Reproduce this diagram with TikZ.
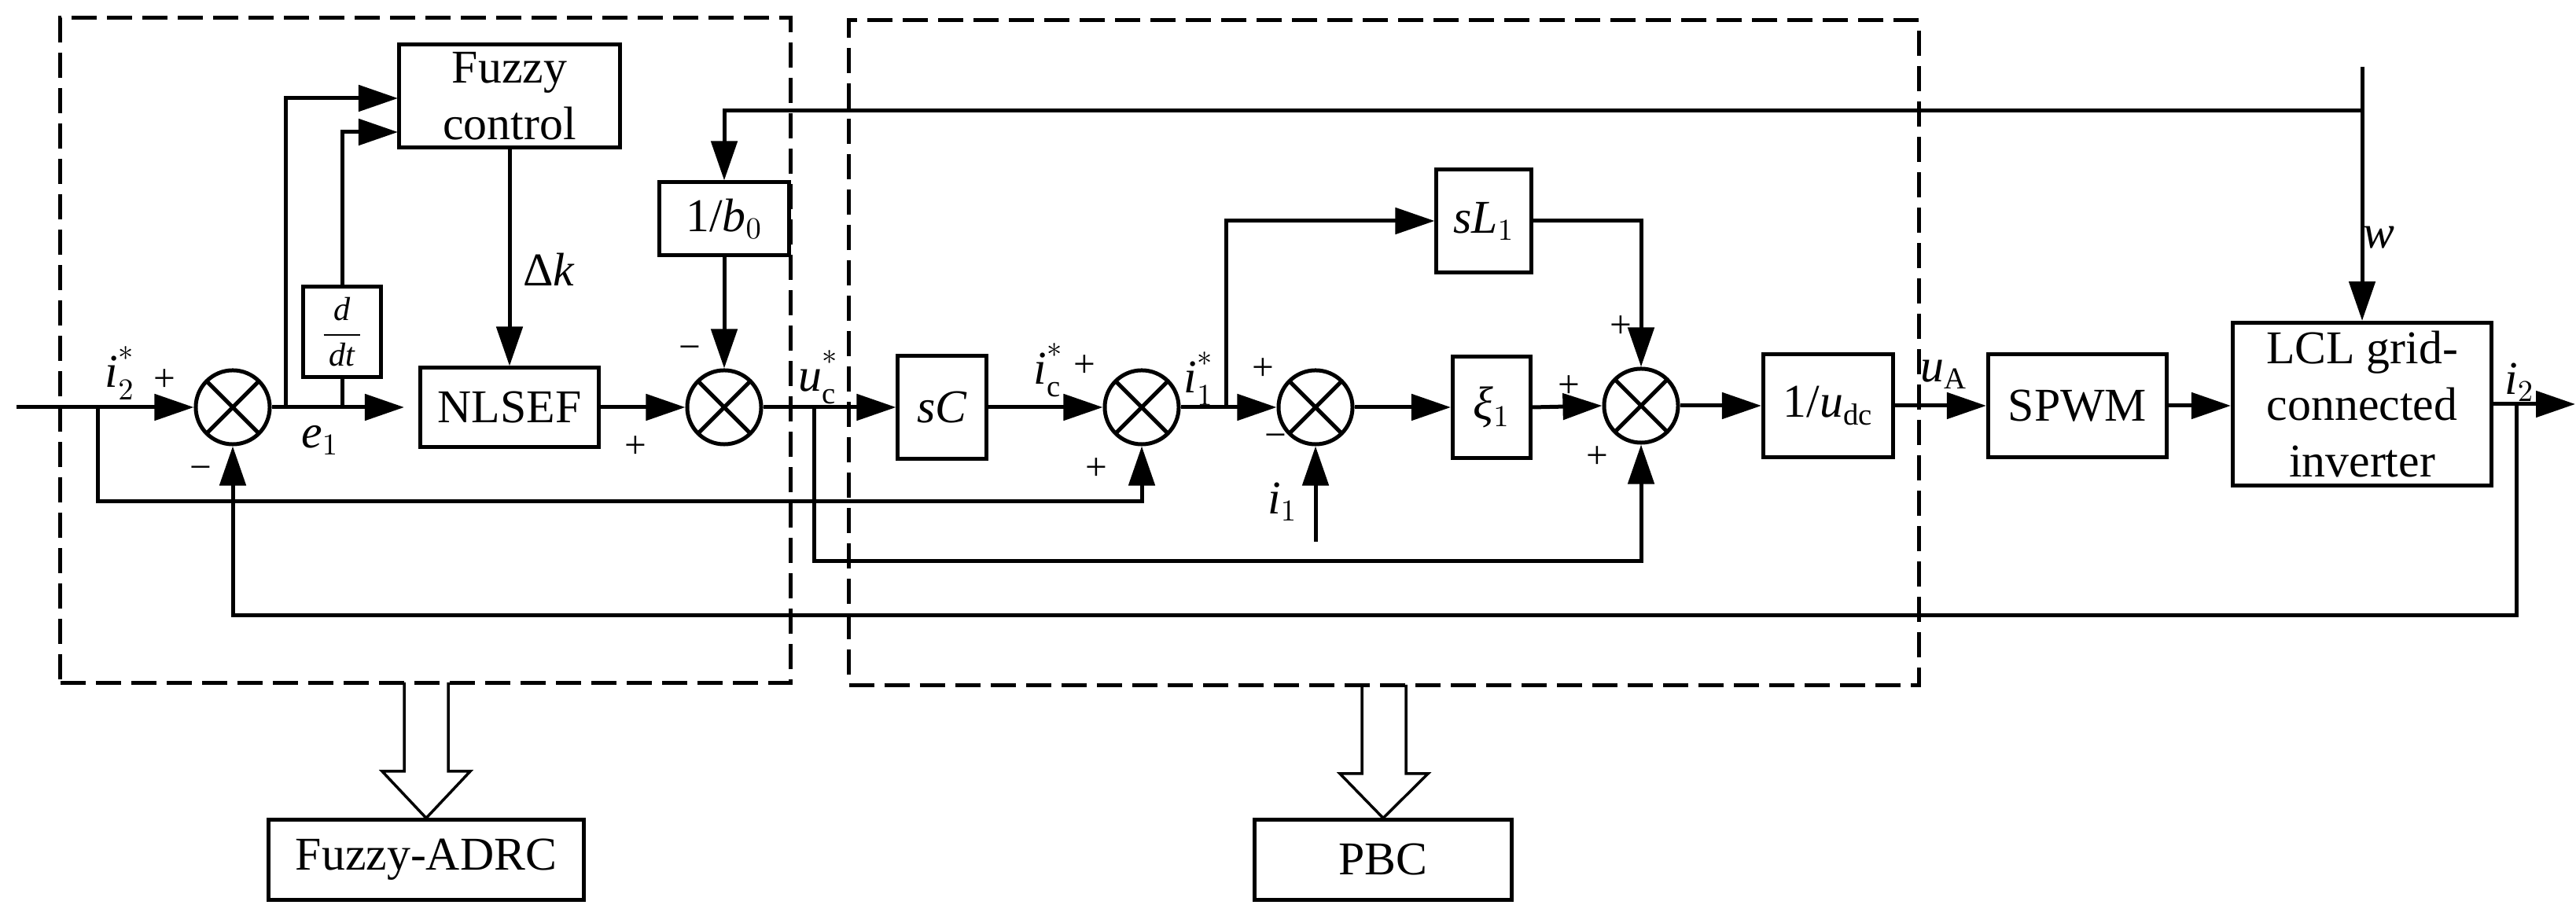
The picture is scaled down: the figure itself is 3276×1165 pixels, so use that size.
\documentclass[tikz,border=0pt]{standalone}
\usepackage{amsmath}
\usepackage{fontspec}
\setmainfont{Liberation Serif}
\usetikzlibrary{arrows.meta,calc}
\DeclareMathSizes{17}{17}{11}{8}
\newcommand{\upstar}{\raisebox{.2em}{$\scriptstyle *$}}
\tikzset{
  wire/.style={line width=.05cm},
  arrow/.style={wire,-{Triangle[length=.5cm,width=.33cm]}},
  blockbox/.style={draw,line width=.05cm,align=center},
  sumnode/.style={draw,circle,line width=.05cm,minimum size=.94cm,
    path picture={\draw[line width=.05cm]
      (path picture bounding box.north west) -- (path picture bounding box.south east)
      (path picture bounding box.north east) -- (path picture bounding box.south west);}},
  dashbox/.style={draw,line width=.05cm,dash pattern=on .32cm off .13cm},
  hollow/.style={line width=.035cm},
  signlabel/.style={font=\fontsize{14}{16}\selectfont},
  starlabel/.style={anchor=base west}
}
\begin{document}
\begin{tikzpicture}[x=.01cm,y=-.01cm,font=\fontsize{17}{20.4}\selectfont]
        \tikzstyle{every node}+=[inner sep=0pt]
        \useasboundingbox (0,0) rectangle (3276,1165);
        \node [dashbox,minimum width=9.28cm,minimum height=8.45cm] (adrcframe) at (541,445.5) {};
        \node [dashbox,minimum width=13.6cm,minimum height=8.45cm] (pbcframe) at (1760,448.5) {};
        \node [blockbox,minimum width=2.81cm,minimum height=1.3cm] (fuzzy) at (648,122) {Fuzzy\\control};
        \node [blockbox,minimum width=.98cm,minimum height=1.15cm,font=\fontsize{12}{14}\selectfont] (dt) at (435,422) {$\dfrac{\textit{d}}{\,\textit{dt}\,}$};
        \node [blockbox,minimum width=2.26cm,minimum height=1cm] (nlsef) at (648,518) {NLSEF};
        \node [blockbox,minimum width=1.64cm,minimum height=.92cm] (bzero) at (921,278) {1/\textit{b}$_0$};
        \node [blockbox,minimum width=1.12cm,minimum height=1.3cm] (sc) at (1198,518) {\textit{sC}};
        \node [blockbox,minimum width=1.2cm,minimum height=1.3cm] (sl) at (1887,281) {\textit{sL}$_1$};
        \node [blockbox,minimum width=.99cm,minimum height=1.29cm] (xi) at (1897,518) {\textit{ξ}$_1$};
        \node [blockbox,minimum width=1.65cm,minimum height=1.3cm] (udc) at (2325,516) {1/\textit{u}$_{\mathrm{dc}}$};
        \node [blockbox,minimum width=2.27cm,minimum height=1.3cm] (spwm) at (2642,516) {SPWM};
        \node [blockbox,minimum width=3.29cm,minimum height=2.07cm] (lcl) at (3004,514) {LCL grid-\\connected\\inverter};
        \node [blockbox,minimum width=4cm,minimum height=1.01cm] (adrcname) at (542,1093.5) {Fuzzy-ADRC};
        \node [blockbox,minimum width=3.26cm,minimum height=1.01cm] (pbcname) at (1759,1093.5) {PBC};
        \node [sumnode] (sumone) at (296,518) {};
        \node [sumnode] (sumtwo) at (921,518) {};
        \node [sumnode] (sumthree) at (1452,518) {};
        \node [sumnode] (sumfour) at (1673,518) {};
        \node [sumnode] (sumfive) at (2087,516) {};
        \coordinate (input) at (21,518);
        \coordinate (inputfork) at (124,518);
        \coordinate (inputlow) at (124,638);
        \coordinate (errfork) at (363,518);
        \coordinate (dtfork) at (435,518);
        \coordinate (errtip) at (514,518);
        \coordinate (fuzzyinone) at (506,125);
        \coordinate (fuzzyintwo) at (506,168);
        \coordinate (ucfork) at (1035,518);
        \coordinate (uclow) at (1035,714);
        \coordinate (ionefork) at (1559,518);
        \coordinate (ionein) at (1673,689);
        \coordinate (wtop) at (3004,85);
        \coordinate (wfork) at (3004,141);
        \coordinate (itwofork) at (3200,514);
        \coordinate (itwolow) at (3200,783);
        \coordinate (itwotip) at (3275,514);
        \coordinate (adrcstem) at (542,868);
        \coordinate (pbcstem) at (1760,871);
        \draw [arrow] (input) -- (sumone.west);
        \draw [arrow] (inputfork) -- (inputlow) -| (sumthree.south);
        \draw [arrow] (sumone.east) -- (errtip);
        \draw [arrow] (errfork) |- (fuzzyinone);
        \draw [wire] (dtfork) -- (dt.south);
        \draw [arrow] (dt.north) |- (fuzzyintwo);
        \draw [arrow] (fuzzy.south) -- (nlsef.north);
        \draw [arrow] (nlsef.east) -- (sumtwo.west);
        \draw [arrow] (wfork) -| (bzero.north);
        \draw [arrow] (bzero.south) -- (sumtwo.north);
        \draw [arrow] (sumtwo.east) -- (sc.west);
        \draw [arrow] (ucfork) -- (uclow) -| (sumfive.south);
        \draw [arrow] (sc.east) -- (sumthree.west);
        \draw [arrow] (sumthree.east) -- (sumfour.west);
        \draw [arrow] (ionefork) |- (sl.west);
        \draw [arrow] (sl.east) -| (sumfive.north);
        \draw [arrow] (ionein) -- (sumfour.south);
        \draw [arrow] (sumfour.east) -- (xi.west);
        \draw [arrow] (xi.east) -- (sumfive.west);
        \draw [arrow] (sumfive.east) -- (udc.west);
        \draw [arrow] (udc.east) -- (spwm.west);
        \draw [arrow] (spwm.east) -- (spwm.east -| lcl.west);
        \draw [arrow] (wtop) -- (lcl.north);
        \draw [arrow] (lcl.east) -- (itwotip);
        \draw [arrow] (itwofork) -- (itwolow) -| (sumone.south);
        \foreach \stem/\target in {adrcstem/adrcname,pbcstem/pbcname}
          \draw [hollow,line join=miter] (\stem) ++(-28,0) -- ++(0,113) -- ++(-28,0) -- (\target.north)
            -- ($(\stem)+(56,113)$) -- ++(-28,0) -- ++(0,-113);
        \node [starlabel] (itwostar) at (133,493) {\textit{i}$_2^{\upstar}$};
        \node (errlabel) at (407,560) {\textit{e}$_1$};
        \node (dklabel) at (698,343) {Δ\textit{k}};
        \node [starlabel] (uclabel) at (1015,498) {\textit{u}$_{\mathrm{c}}^{\upstar}$};
        \node [starlabel] (iclabel) at (1314,489) {\textit{i}$_{\mathrm{c}}^{\upstar}$};
        \node [starlabel] (ionestar) at (1505,500) {\textit{i}$_1^{\upstar}$};
        \node (ionelabel) at (1631,638) {\textit{i}$_1$};
        \node (ualabel) at (2472,476) {\textit{u}$_{\mathrm{A}}$};
        \node (wlabel) at (3025,302) {\textit{w}};
        \node (itwolabel) at (3204,486) {\textit{i}$_2$};
        \node [signlabel] (signa) at (209,484) {+};
        \node [signlabel] (signb) at (255,602) {−};
        \node [signlabel] (signc) at (877,449) {−};
        \node [signlabel] (signd) at (808,569) {+};
        \node [signlabel] (signe) at (1379,466) {+};
        \node [signlabel] (signf) at (1394,597) {+};
        \node [signlabel] (signg) at (1606,470) {+};
        \node [signlabel] (signh) at (1622,561) {−};
        \node [signlabel] (signi) at (1995,492) {+};
        \node [signlabel] (signj) at (2061,416) {+};
        \node [signlabel] (signk) at (2031,582) {+};
    \end{tikzpicture}
\end{document}
